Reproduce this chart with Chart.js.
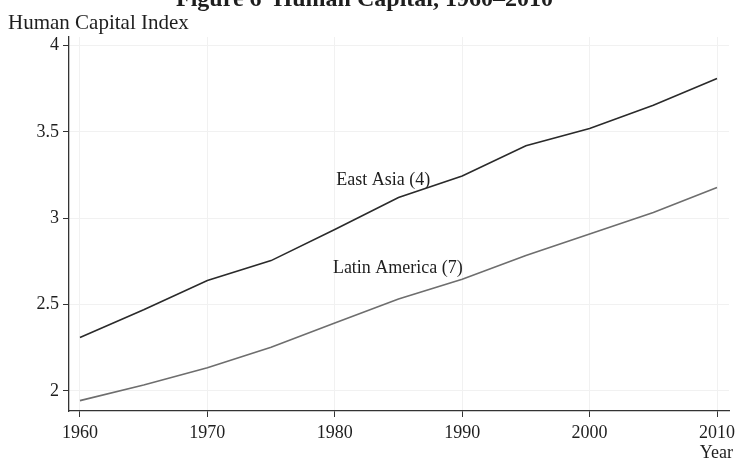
<!DOCTYPE html>
<html>
<head>
<meta charset="utf-8">
<script src="https://cdn.jsdelivr.net/npm/chart.js@4/dist/chart.umd.min.js"></script>
<style>
  html, body { margin: 0; padding: 0; background: #ffffff; overflow: hidden; }
  #wrap { position: absolute; left: 0; top: -15px; width: 736px; height: 475px; }
</style>
</head>
<body>
<div id="wrap"><canvas id="c" width="736" height="475"></canvas></div>
<script>
// ---- data ----
const titleText = 'Figure 6  Human Capital, 1960\u20132010';
const yAxisLabel = 'Human Capital Index';
const xAxisLabel = 'Year';
const years = [1960, 1965, 1970, 1975, 1980, 1985, 1990, 1995, 2000, 2005, 2010];
const eastAsia = [2.31, 2.47, 2.64, 2.755, 2.935, 3.12, 3.245, 3.42, 3.52, 3.655, 3.81];
const latinAmerica = [1.944, 2.035, 2.135, 2.253, 2.394, 2.533, 2.647, 2.784, 2.909, 3.033, 3.178];
const seriesNames = ['East Asia (4)', 'Latin America (7)'];
const xTickValues = [1960, 1970, 1980, 1990, 2000, 2010];
const yTickValues = [2, 2.5, 3, 3.5, 4];
// label anchors in data units [year, value]
const labelAnchors = [[1983.8, 3.222], [1984.95, 2.711]];

const FONT = "'Liberation Serif', 'Times New Roman', serif";
const TEXT = '#1e1e1e';

const textPlugin = {
  id: 'textPlugin',
  afterDatasetsDraw(chart) {
    const ctx = chart.ctx;
    const xs = chart.scales.x, ys = chart.scales.y;
    ctx.save();
    ctx.fillStyle = TEXT;
    ctx.font = "18px " + FONT;
    ctx.textAlign = 'center';
    ctx.textBaseline = 'middle';
    seriesNames.forEach((n, i) => {
      ctx.fillText(n, xs.getPixelForValue(labelAnchors[i][0]), ys.getPixelForValue(labelAnchors[i][1]));
    });
    // x axis title, bottom right
    ctx.textAlign = 'right';
    ctx.fillText(xAxisLabel, chart.width - 3, 468);
    // y axis title, top left, horizontal
    ctx.font = "21px " + FONT;
    ctx.textAlign = 'left';
    ctx.fillText(yAxisLabel, 8, 38.5);
    ctx.restore();
  }
};

new Chart(document.getElementById('c'), {
  type: 'line',
  data: {
    datasets: [
      { label: seriesNames[0], data: years.map((y, i) => ({ x: y, y: eastAsia[i] })),
        borderColor: '#2a2a2a', borderWidth: 1.6, pointRadius: 0, tension: 0, fill: false },
      { label: seriesNames[1], data: years.map((y, i) => ({ x: y, y: latinAmerica[i] })),
        borderColor: '#6e6e6e', borderWidth: 1.6, pointRadius: 0, tension: 0, fill: false }
    ]
  },
  options: {
    responsive: false,
    devicePixelRatio: 1,
    animation: false,
    layout: { padding: { left: 0, right: 7, top: 0, bottom: 0 } },
    plugins: {
      legend: { display: false },
      tooltip: { enabled: false },
      title: {
        display: true,
        text: titleText,
        color: TEXT,
        font: { family: FONT, size: 24, weight: 'bold' },
        padding: { top: 0, bottom: 23.2 }
      }
    },
    scales: {
      x: {
        type: 'linear',
        min: 1959.14,
        max: 2010.94,
        afterBuildTicks(s) { s.ticks = xTickValues.map(v => ({ value: v })); },
        afterFit(s) { s.height = 49; s.paddingLeft = 0; s.paddingRight = 0; },
        ticks: { color: TEXT, font: { family: FONT, size: 18 }, padding: 5, maxRotation: 0,
                 callback: v => String(v) },
        grid: { color: '#f1f1f1', lineWidth: 1, tickColor: '#333', tickLength: 6, drawTicks: true },
        border: { color: '#333', width: 1.3 },
        title: { display: false, text: xAxisLabel }
      },
      y: {
        type: 'linear',
        min: 1.884,
        max: 4.05,
        afterBuildTicks(s) { s.ticks = yTickValues.map(v => ({ value: v })); },
        afterFit(s) { s.width = 69; s.paddingTop = 0; s.paddingBottom = 0; },
        ticks: { color: TEXT, font: { family: FONT, size: 18 }, padding: 4,
                 callback: v => String(v) },
        grid: { color: '#f1f1f1', lineWidth: 1, tickColor: '#333', tickLength: 6, drawTicks: true },
        border: { color: '#333', width: 1.3 }
      }
    }
  },
  plugins: [textPlugin]
});
</script>
</body>
</html>
